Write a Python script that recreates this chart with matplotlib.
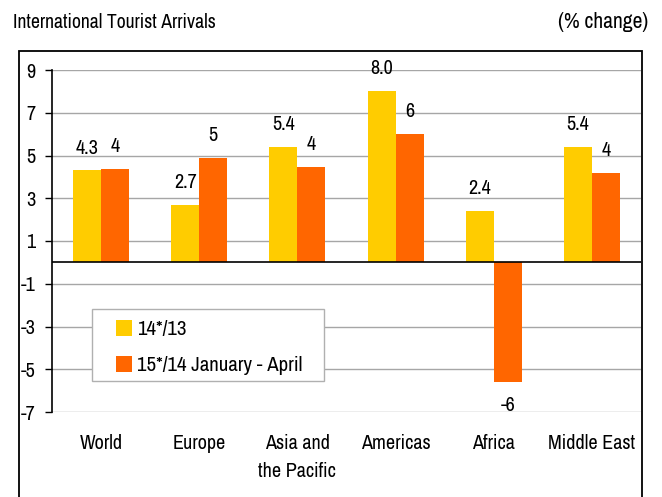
import matplotlib
matplotlib.use("Agg")
import matplotlib.pyplot as plt
import numpy as np
from matplotlib.patches import Rectangle

# data
regions = ["World", "Europe", "Asia and\nthe Pacific", "Americas", "Africa", "Middle East"]
change_14_13 = [4.3, 2.7, 5.4, 8.0, 2.4, 5.4]
change_15_14 = [4.35, 4.9, 4.45, 6.0, -5.6, 4.2]
series_names = ["14*/13", "15*/14 January - April"]
y_ticks = [9, 7, 5, 3, 1, -1, -3, -5, -7]

yellow = "#FFCC00"
orange = "#FF6600"

plt.rcParams["font.family"] = ["Archivo Narrow", "Liberation Sans", "DejaVu Sans"]
plt.rcParams["font.size"] = 14.5

fig = plt.figure(figsize=(6.62, 4.97), dpi=100)
W, H = 662, 497

# outer frame
fig.patches.append(Rectangle((18.5 / W, -0.05), (641.5 - 18.5) / W, (497 - 50.5) / H + 0.05,
                             transform=fig.transFigure, fill=False,
                             edgecolor="black", linewidth=1.3))

fig.text(13 / W, 1 - 22 / H, "International Tourist Arrivals", fontsize=14.2,
         ha="left", va="center")
fig.text(648 / W, 1 - 22 / H, "(% change)", fontsize=15.5, ha="right", va="center")

ax = fig.add_axes([52 / W, (497 - 412) / H, (641 - 52) / W, (412 - 70) / H])

x = np.arange(len(regions))
bw = 0.285
ax.bar(x - bw / 2, change_14_13, bw, color=yellow, label=series_names[0], zorder=3)
ax.bar(x + bw / 2, change_15_14, bw, color=orange, label=series_names[1], zorder=3)

for xi, v in zip(x, change_14_13):
    ax.text(xi - bw / 2, v + 1.05, f"{v:.1f}", ha="center", va="center")
for xi, v in zip(x, change_15_14):
    off = 1.05 if v >= 0 else -1.1
    ax.text(xi + bw / 2, v + off, f"{v:.0f}", ha="center", va="center")

ax.set_xlim(-0.5, len(regions) - 0.5)
ax.set_ylim(-7, 9)
ax.set_yticks(y_ticks)
ax.set_yticklabels([str(t) for t in y_ticks])
ax.yaxis.grid(True, color="#a6a6a6", linewidth=1, zorder=0)
ax.axhline(0, color="black", linewidth=1.2, zorder=4)

ax.set_xticks(x)
ax.set_xticklabels(regions, linespacing=1.6)
ax.tick_params(axis="x", length=0, pad=16)
ax.tick_params(axis="y", length=5, width=1, direction="out", pad=7)

for side in ["top", "right", "bottom"]:
    ax.spines[side].set_visible(False)
ax.spines["left"].set_linewidth(1.2)

# legend box drawn separately so the padding matches the original
ax.add_patch(Rectangle((0.068, 0.0906), 0.394, 0.2104, transform=ax.transAxes,
                       facecolor="white", edgecolor="#b0b0b0", linewidth=1, zorder=5))
leg = ax.legend(loc="center left", bbox_to_anchor=(0.108, 0.188), borderaxespad=0,
                frameon=False, borderpad=0,
                handlelength=0.8, handleheight=0.8, handletextpad=0.25,
                labelspacing=0.8, fontsize=15)
leg.set_zorder(6)

fig.savefig("out.png", dpi=100)
